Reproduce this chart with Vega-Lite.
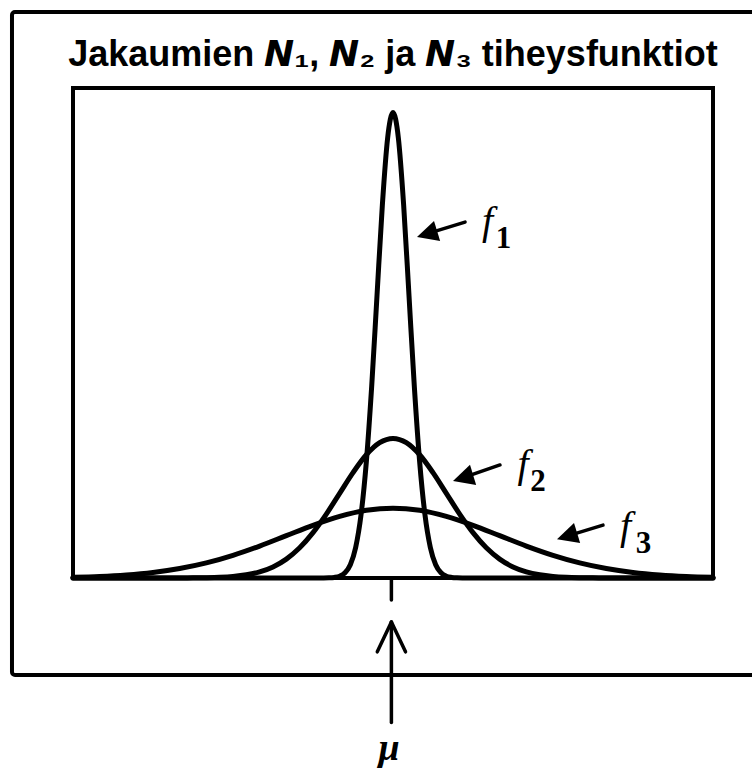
{
  "$schema": "https://vega.github.io/schema/vega-lite/v6.json",
  "width": 640,
  "height": 490,
  "autosize": {"type": "none"},
  "padding": {"left": 73, "top": 88, "right": 39, "bottom": 199},
  "background": "white",
  "title": {
    "text": "Jakaumien 𝙉₁, 𝙉₂ ja 𝙉₃ tiheysfunktiot",
    "font": "Liberation Sans",
    "fontSize": 36,
    "fontWeight": "bold",
    "color": "black",
    "anchor": "middle",
    "frame": "group",
    "baseline": "bottom",
    "offset": -100
  },
  "config": {"view": {"stroke": "black", "strokeWidth": 4}},
  "datasets": {
    "frame": [{"x1": -7.144, "x2": 7.6, "y1": 1.617, "y2": -0.277}],
    "curves": [
      {"curve": "f1", "x": -6, "y": 0}, {"curve": "f1", "x": -4, "y": 0}, {"curve": "f1", "x": -2, "y": 0},
      {"curve": "f1", "x": -1.5, "y": 0}, {"curve": "f1", "x": -1.3, "y": 0.0001}, {"curve": "f1", "x": -1.2, "y": 0.0004},
      {"curve": "f1", "x": -1.1, "y": 0.0016}, {"curve": "f1", "x": -1.0, "y": 0.0051}, {"curve": "f1", "x": -0.9, "y": 0.0148},
      {"curve": "f1", "x": -0.8, "y": 0.038}, {"curve": "f1", "x": -0.7, "y": 0.0874}, {"curve": "f1", "x": -0.6, "y": 0.1799},
      {"curve": "f1", "x": -0.5, "y": 0.3316}, {"curve": "f1", "x": -0.4, "y": 0.5467}, {"curve": "f1", "x": -0.3, "y": 0.8065},
      {"curve": "f1", "x": -0.2, "y": 1.0648}, {"curve": "f1", "x": -0.1, "y": 1.258}, {"curve": "f1", "x": 0, "y": 1.3298},
      {"curve": "f1", "x": 0.1, "y": 1.258}, {"curve": "f1", "x": 0.2, "y": 1.0648}, {"curve": "f1", "x": 0.3, "y": 0.8065},
      {"curve": "f1", "x": 0.4, "y": 0.5467}, {"curve": "f1", "x": 0.5, "y": 0.3316}, {"curve": "f1", "x": 0.6, "y": 0.1799},
      {"curve": "f1", "x": 0.7, "y": 0.0874}, {"curve": "f1", "x": 0.8, "y": 0.038}, {"curve": "f1", "x": 0.9, "y": 0.0148},
      {"curve": "f1", "x": 1.0, "y": 0.0051}, {"curve": "f1", "x": 1.1, "y": 0.0016}, {"curve": "f1", "x": 1.2, "y": 0.0004},
      {"curve": "f1", "x": 1.3, "y": 0.0001}, {"curve": "f1", "x": 1.5, "y": 0}, {"curve": "f1", "x": 2, "y": 0},
      {"curve": "f1", "x": 4, "y": 0}, {"curve": "f1", "x": 6, "y": 0},
      {"curve": "f2", "x": -6, "y": 0}, {"curve": "f2", "x": -5, "y": 0}, {"curve": "f2", "x": -4, "y": 0.0001},
      {"curve": "f2", "x": -3.75, "y": 0.0004}, {"curve": "f2", "x": -3.5, "y": 0.0009}, {"curve": "f2", "x": -3.25, "y": 0.002},
      {"curve": "f2", "x": -3, "y": 0.0044}, {"curve": "f2", "x": -2.75, "y": 0.0091}, {"curve": "f2", "x": -2.5, "y": 0.0175},
      {"curve": "f2", "x": -2.25, "y": 0.0317}, {"curve": "f2", "x": -2, "y": 0.054}, {"curve": "f2", "x": -1.75, "y": 0.0863},
      {"curve": "f2", "x": -1.5, "y": 0.1295}, {"curve": "f2", "x": -1.25, "y": 0.1826}, {"curve": "f2", "x": -1, "y": 0.242},
      {"curve": "f2", "x": -0.75, "y": 0.3011}, {"curve": "f2", "x": -0.5, "y": 0.3521}, {"curve": "f2", "x": -0.25, "y": 0.3867},
      {"curve": "f2", "x": 0, "y": 0.3989}, {"curve": "f2", "x": 0.25, "y": 0.3867}, {"curve": "f2", "x": 0.5, "y": 0.3521},
      {"curve": "f2", "x": 0.75, "y": 0.3011}, {"curve": "f2", "x": 1, "y": 0.242}, {"curve": "f2", "x": 1.25, "y": 0.1826},
      {"curve": "f2", "x": 1.5, "y": 0.1295}, {"curve": "f2", "x": 1.75, "y": 0.0863}, {"curve": "f2", "x": 2, "y": 0.054},
      {"curve": "f2", "x": 2.25, "y": 0.0317}, {"curve": "f2", "x": 2.5, "y": 0.0175}, {"curve": "f2", "x": 2.75, "y": 0.0091},
      {"curve": "f2", "x": 3, "y": 0.0044}, {"curve": "f2", "x": 3.25, "y": 0.002}, {"curve": "f2", "x": 3.5, "y": 0.0009},
      {"curve": "f2", "x": 3.75, "y": 0.0004}, {"curve": "f2", "x": 4, "y": 0.0001}, {"curve": "f2", "x": 5, "y": 0},
      {"curve": "f2", "x": 6, "y": 0},
      {"curve": "f3", "x": -6, "y": 0.0022}, {"curve": "f3", "x": -5.5, "y": 0.0045}, {"curve": "f3", "x": -5, "y": 0.0088},
      {"curve": "f3", "x": -4.5, "y": 0.0159}, {"curve": "f3", "x": -4, "y": 0.027}, {"curve": "f3", "x": -3.5, "y": 0.0431},
      {"curve": "f3", "x": -3, "y": 0.0648}, {"curve": "f3", "x": -2.5, "y": 0.0913}, {"curve": "f3", "x": -2, "y": 0.121},
      {"curve": "f3", "x": -1.5, "y": 0.1506}, {"curve": "f3", "x": -1, "y": 0.176}, {"curve": "f3", "x": -0.5, "y": 0.1933},
      {"curve": "f3", "x": 0, "y": 0.1995}, {"curve": "f3", "x": 0.5, "y": 0.1933}, {"curve": "f3", "x": 1, "y": 0.176},
      {"curve": "f3", "x": 1.5, "y": 0.1506}, {"curve": "f3", "x": 2, "y": 0.121}, {"curve": "f3", "x": 2.5, "y": 0.0913},
      {"curve": "f3", "x": 3, "y": 0.0648}, {"curve": "f3", "x": 3.5, "y": 0.0431}, {"curve": "f3", "x": 4, "y": 0.027},
      {"curve": "f3", "x": 4.5, "y": 0.0159}, {"curve": "f3", "x": 5, "y": 0.0088}, {"curve": "f3", "x": 5.5, "y": 0.0045},
      {"curve": "f3", "x": 6, "y": 0.0022}
    ],
    "rules": [
      {"x1": 1.35, "y1": 1.017, "x2": 0.6, "y2": 0.982},
      {"x1": 2.006, "y1": 0.323, "x2": 1.25, "y2": 0.283},
      {"x1": 3.9375, "y1": 0.151, "x2": 3.2, "y2": 0.117},
      {"x1": -0.03, "y1": 0, "x2": -0.03, "y2": -0.063},
      {"x1": -0.03, "y1": -0.1257, "x2": -0.03, "y2": -0.4125},
      {"x1": -0.295, "y1": -0.211, "x2": -0.03, "y2": -0.1257},
      {"x1": 0.235, "y1": -0.211, "x2": -0.03, "y2": -0.1257}
    ],
    "heads": [
      {"x": 0.45, "y": 0.974},
      {"x": 1.125, "y": 0.277},
      {"x": 3.075, "y": 0.111}
    ],
    "flabels": [
      {"x": 1.772, "y": 0.983, "t": "f"},
      {"x": 2.4375, "y": 0.289, "t": "f"},
      {"x": 4.359, "y": 0.111, "t": "f"}
    ],
    "sublabels": [
      {"x": 2.072, "y": 0.943, "t": "1"},
      {"x": 2.719, "y": 0.249, "t": "2"},
      {"x": 4.697, "y": 0.071, "t": "3"}
    ],
    "mu": [{"x": -0.075, "y": -0.52, "t": "μ"}]
  },
  "layer": [
    {
      "data": {"name": "frame"},
      "mark": {"type": "rect", "filled": false, "stroke": "black", "strokeWidth": 4, "cornerRadius": 3},
      "encoding": {
        "x": {"field": "x1", "type": "quantitative", "scale": {"domain": [-6, 6], "nice": false, "zero": false}, "axis": null},
        "x2": {"field": "x2"},
        "y": {"field": "y1", "type": "quantitative", "scale": {"domain": [0, 1.4], "nice": false, "zero": false}, "axis": null},
        "y2": {"field": "y2"}
      }
    },
    {
      "data": {"name": "curves"},
      "mark": {"type": "line", "color": "black", "strokeWidth": 5, "interpolate": "monotone", "strokeJoin": "round", "strokeCap": "round"},
      "encoding": {
        "x": {"field": "x", "type": "quantitative", "axis": null},
        "y": {"field": "y", "type": "quantitative", "axis": null},
        "detail": {"field": "curve"}
      }
    },
    {
      "data": {"name": "rules"},
      "mark": {"type": "rule", "color": "black", "strokeWidth": 3.5, "strokeCap": "round"},
      "encoding": {
        "x": {"field": "x1", "type": "quantitative", "axis": null},
        "y": {"field": "y1", "type": "quantitative", "axis": null},
        "x2": {"field": "x2"},
        "y2": {"field": "y2"}
      }
    },
    {
      "data": {"name": "heads"},
      "mark": {"type": "point", "shape": "M0,0L-0.5,1L0.5,1Z", "filled": true, "color": "black", "opacity": 1, "size": 1764, "angle": 253},
      "encoding": {
        "x": {"field": "x", "type": "quantitative", "axis": null},
        "y": {"field": "y", "type": "quantitative", "axis": null}
      }
    },
    {
      "data": {"name": "flabels"},
      "mark": {"type": "text", "font": "Liberation Serif", "fontStyle": "italic", "fontSize": 40, "color": "black", "align": "center", "baseline": "alphabetic"},
      "encoding": {
        "x": {"field": "x", "type": "quantitative", "axis": null},
        "y": {"field": "y", "type": "quantitative", "axis": null},
        "text": {"field": "t"}
      }
    },
    {
      "data": {"name": "sublabels"},
      "mark": {"type": "text", "font": "Liberation Serif", "fontWeight": "bold", "fontSize": 31, "color": "black", "align": "center", "baseline": "alphabetic"},
      "encoding": {
        "x": {"field": "x", "type": "quantitative", "axis": null},
        "y": {"field": "y", "type": "quantitative", "axis": null},
        "text": {"field": "t"}
      }
    },
    {
      "data": {"name": "mu"},
      "mark": {"type": "text", "font": "Liberation Serif", "fontStyle": "italic", "fontWeight": "bold", "fontSize": 38, "color": "black", "align": "center", "baseline": "alphabetic"},
      "encoding": {
        "x": {"field": "x", "type": "quantitative", "axis": null},
        "y": {"field": "y", "type": "quantitative", "axis": null},
        "text": {"field": "t"}
      }
    }
  ]
}
